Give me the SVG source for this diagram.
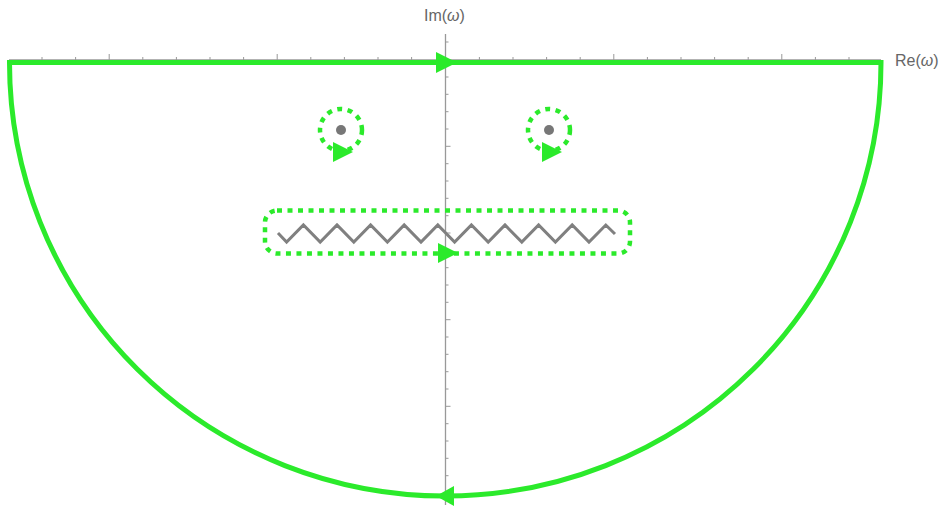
<svg xmlns="http://www.w3.org/2000/svg" width="941" height="510" viewBox="0 0 941 510">
<style>
.axis{stroke:#999;stroke-width:1.3;fill:none}
.tick{stroke:#999;stroke-width:1}
.lbl{font-family:"Liberation Sans",Arial,sans-serif;font-size:16px;fill:#666}
.green{stroke:#2bea2b;fill:none}
.solid{stroke-width:5;stroke-linejoin:miter}
.dot{stroke-width:4.5;stroke-dasharray:5 5.5}
.arrow{fill:#2bea2b;stroke:none}
</style>
<g id="axes">
<line class="axis" x1="9" y1="60" x2="881" y2="60"/>
<line class="axis" x1="445.5" y1="34" x2="445.5" y2="505"/>
<g id="xticks" class="tick">
<path d="M42 60v-3M75.6 60v-3M109.2 60v-6M142.8 60v-3M176.4 60v-3M210 60v-3M243.6 60v-3M277.2 60v-6M310.8 60v-3M344.4 60v-3M378 60v-3M411.6 60v-3M479.4 60v-3M513 60v-3M546.6 60v-3M580.2 60v-3M613.8 60v-6M647.4 60v-3M681 60v-3M714.6 60v-3M748.2 60v-3M781.8 60v-6M815.4 60v-3M849 60v-3"/>
</g>
<g id="yticks" class="tick">
<path d="M445.5 42h3M445.5 77h3M445.5 94.3h3M445.5 111.7h3M445.5 129h3M445.5 146.3h5M445.5 163.7h3M445.5 181h3M445.5 198.3h3M445.5 215.7h3M445.5 233h5M445.5 250.3h3M445.5 267.7h3M445.5 285h3M445.5 302.3h3M445.5 319.7h5M445.5 337h3M445.5 354.3h3M445.5 371.7h3M445.5 389h3M445.5 406.3h5M445.5 423.7h3M445.5 441h3M445.5 458.3h3M445.5 475.7h3M445.5 493h5"/>
</g>
<text class="lbl" x="424" y="21">Im(<tspan font-style="italic">ω</tspan>)</text>
<text class="lbl" x="895" y="66">Re(<tspan font-style="italic">ω</tspan>)</text>
</g>
<g id="branch-cut">
<polyline fill="none" stroke="#808080" stroke-width="3" stroke-linejoin="miter" points="278,233 286.6,242 303.4,225 320.2,242 337,225 353.8,242 370.6,225 387.4,242 404.2,225 421,242 437.8,225 454.6,242 471.4,225 488.2,242 505,225 521.8,242 538.6,225 555.4,242 572.2,225 589,242 605.8,225 615,234"/>
</g>
<g id="pole-left">
<circle cx="341" cy="130" r="5" fill="#777"/>
</g>
<g id="pole-right">
<circle cx="549" cy="130" r="5" fill="#777"/>
</g>
<g id="contours">
<path class="green solid" d="M9.5 62.5 L881 62.5 A435.75 433.5 0 0 1 9.5 62.5 Z"/>
<polygon class="arrow" points="436,52 457,62.5 436,73"/>
<polygon class="arrow" points="454,486 436,496 454,506"/>
<circle class="green dot" cx="341" cy="130" r="21"/>
<polygon class="arrow" points="333,142 353,152 333,162"/>
<circle class="green dot" cx="549" cy="130" r="21"/>
<polygon class="arrow" points="542,142 562,152 542,162"/>
<rect class="green dot" x="265" y="210.5" width="365" height="43" rx="12"/>
<polygon class="arrow" points="438,243 458,253 438,263"/>
</g>
</svg>
